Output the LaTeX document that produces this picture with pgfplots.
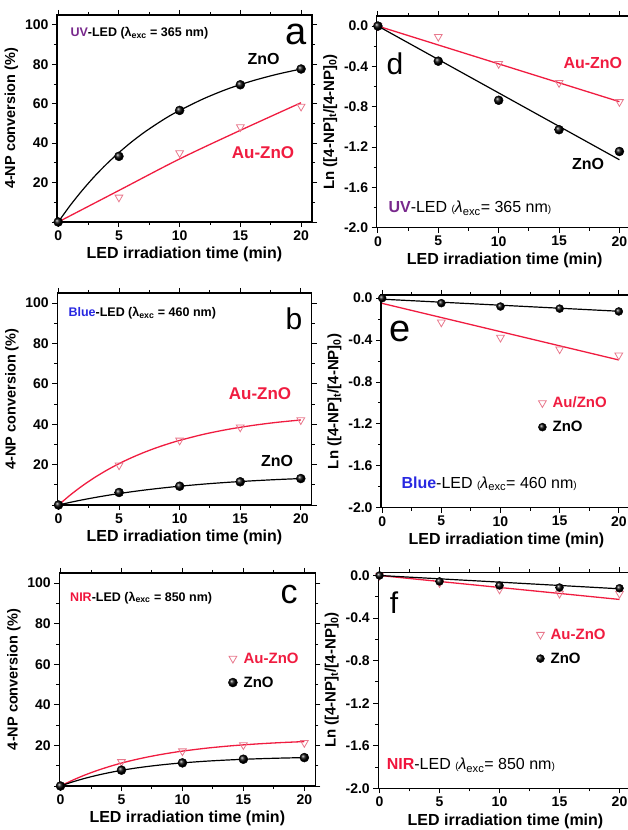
\documentclass[border=0pt]{standalone}
\usepackage{pgfplots}
\pgfplotsset{compat=1.18}
\usepackage{fontspec}
\setmainfont{Liberation Sans}
\definecolor{aured}{RGB}{240,28,64}
\definecolor{aumark}{RGB}{232,120,140}
\definecolor{uvpurple}{RGB}{120,40,140}
\definecolor{blueled}{RGB}{40,40,225}
\definecolor{nirred}{RGB}{240,20,60}
\newcommand{\fs}[1]{\fontsize{#1}{#1}\selectfont}

\pgfplotsset{
 panel/.style={
   scale only axis, anchor=south west,
   axis line style={line width=1.2pt},
   tick align=outside,
   major tick length=5pt, minor tick length=3pt,
   every tick/.style={black, line width=0.9pt},
   xtick={0,5,10,15,20}, xticklabels={0,5,10,15,20},
   minor x tick num=1,
   xmin=-0.1, xmax=20.9,
   tick label style={font=\fs{14}\bfseries},
   xlabel={LED irradiation time (min)},
   xlabel style={font=\fs{16}\bfseries},
   ylabel style={font=\fs{14.5}\bfseries},
   clip=false,
   legend style={draw=none, fill=none, font=\fs{15}\bfseries, row sep=8pt, inner sep=0pt, column sep=4pt},
   legend cell align=left,
   legend image code/.code={\draw[##1] plot coordinates {(0pt,0pt)};},
 },
 leftp/.style={panel, ymin=0, ymax=105, ytick={0,20,40,60,80,100}, yticklabels={,20,40,60,80,100}, minor y tick num=1, ylabel={4-NP conversion (\%)}},
 rightp/.style={panel, ymin=-2, xmax=21.1, ytick={-2,-1.6,-1.2,-0.8,-0.4,0}, yticklabels={-2.0,-1.6,-1.2,-0.8,-0.4,0.0}, minor y tick num=1, ylabel={Ln ([4-NP]\textsubscript{t}/[4-NP]\textsubscript{0})}, ylabel style={font=\fs{15}\bfseries}},
 zno/.style={only marks, mark=ball, mark size=4.5pt, ball color=black, mark options={ball color=black}},
 au/.style={only marks, mark=triangle, mark size=4.5pt, mark options={rotate=180, draw=aumark, fill=white, line width=0.8pt}},
 znoline/.style={black, line width=1.2pt, no marks, smooth},
 auline/.style={aured, line width=1.3pt, no marks, smooth},
}

\begin{document}
\begin{tikzpicture}
% ---------------- panel a
\begin{axis}[leftp, at={(57pt,608pt)}, width=255pt, height=207pt]
\addplot[auline, forget plot] coordinates {(0,0)(5,16)(10,32)(15,46.5)(20,60.5)};
\addplot[znoline, forget plot] coordinates {(0,0)(1,8.5)(2,16.2)(3,23.2)(4,29.5)(5,35.2)(6,40.4)(7,45.1)(8,49.3)(9,53.2)(10,56.6)(12,62.6)(14,67.6)(16,71.6)(18,74.9)(20,77.6)};
\addplot[au] coordinates {(5,12.5)(10,35)(15,48.2)(20,58.6)};
\addplot[zno] coordinates {(0,0)(5,33.3)(10,56.6)(15,69.6)(20,77.6)};
\end{axis}
% ---------------- panel d
\begin{axis}[rightp, at={(376.7pt,602.3pt)}, width=256pt, height=211.7pt, ymax=0.1]
\addplot[auline, forget plot] coordinates {(0,0)(20,-0.75)};
\addplot[znoline, forget plot] coordinates {(0,0)(20,-1.326)};
\addplot[au] coordinates {(0,0)(5,-0.105)(10,-0.374)(15,-0.563)(20,-0.752)};
\addplot[zno] coordinates {(0,0)(5,-0.348)(10,-0.736)(15,-1.028)(20,-1.244)};
\end{axis}
% ---------------- panel b
\begin{axis}[leftp, at={(57.3pt,325pt)}, width=254.4pt, height=212pt]
\addplot[auline, forget plot] coordinates {(0,0)(1,5.09)(2,9.63)(3,13.68)(4,17.28)(5,20.5)(6,23.35)(7,25.9)(8,28.18)(9,30.2)(10,32.0)(12,35.05)(14,37.47)(16,39.39)(18,40.92)(20,42.1)};
\addplot[znoline, forget plot] coordinates {(0,0)(1,1.35)(2,2.58)(3,3.70)(4,4.73)(5,5.67)(6,6.53)(7,7.32)(8,8.04)(9,8.70)(10,9.3)(12,10.36)(14,11.24)(16,11.97)(18,12.59)(20,13.1)};
\addplot[au] coordinates {(5,19.7)(10,32)(15,38.5)(20,42.1)};
\addplot[zno] coordinates {(0,0)(5,6.2)(10,9.3)(15,11.5)(20,13.1)};
\end{axis}
% ---------------- panel e
\begin{axis}[rightp, at={(381pt,322.3pt)}, width=250.8pt, height=212.7pt, ymax=0.03,
  legend style={at={(0.626,0.436)}, anchor=west}]
\addplot[auline, forget plot] coordinates {(0,-0.05)(20,-0.59)};
\addplot[znoline, forget plot] coordinates {(0,-0.01)(20,-0.125)};
\addplot[au] coordinates {(5,-0.23)(10,-0.376)(15,-0.487)(20,-0.545)};
\addlegendentry{\textcolor{aured}{Au/ZnO}}
\addplot[zno, mark size=4pt] coordinates {(0,0)(5,-0.048)(10,-0.08)(15,-0.10)(20,-0.127)};
\addlegendentry{ZnO}
\end{axis}
% ---------------- panel c
\begin{axis}[leftp, at={(59.3pt,44pt)}, width=256pt, height=213pt,
  legend style={at={(0.659,0.542)}, anchor=west}]
\addplot[auline, forget plot] coordinates {(0,0)(1,2.88)(2,5.41)(3,7.63)(4,9.58)(5,11.3)(6,12.80)(7,14.12)(8,15.28)(9,16.30)(10,17.2)(12,18.67)(14,19.81)(16,20.69)(18,21.37)(20,21.9)};
\addplot[znoline, forget plot] coordinates {(0,0)(1,2.03)(2,3.78)(3,5.29)(4,6.59)(5,7.72)(6,8.69)(7,9.52)(8,10.24)(9,10.86)(10,11.4)(12,12.26)(14,12.90)(16,13.38)(18,13.74)(20,14.0)};
\addplot[au] coordinates {(5,11.9)(10,17.2)(15,20.2)(20,21.3)};
\addlegendentry{\textcolor{aured}{Au-ZnO}}
\addplot[zno] coordinates {(0,0)(5,7.8)(10,11.4)(15,13.2)(20,14.0)};
\addlegendentry{ZnO}
\end{axis}
% ---------------- panel f
\begin{axis}[rightp, at={(378.3pt,41.7pt)}, width=254.4pt, height=216pt, ymax=0.03,
  legend style={at={(0.62,0.656)}, anchor=west}]
\addplot[auline, forget plot] coordinates {(0,0)(20,-0.225)};
\addplot[znoline, forget plot] coordinates {(0,0)(20,-0.125)};
\addplot[au] coordinates {(0,0)(5,-0.07)(10,-0.13)(15,-0.17)(20,-0.17)};
\addlegendentry{\textcolor{aured}{Au-ZnO}}
\addplot[zno, mark size=4pt] coordinates {(0,0)(5,-0.056)(10,-0.094)(15,-0.113)(20,-0.12)};
\addlegendentry{ZnO}
\end{axis}
% ---------------- annotations
\node[anchor=west, font=\fs{12.5}\bfseries] at (67pt,797pt) {\textcolor{uvpurple}{UV}-LED (λ\textsubscript{exc} = 365 nm)};
\node[anchor=base, font=\fs{38}] at (296pt,785pt) {a};
\node[anchor=base, font=\fs{16}\bfseries] at (263.5pt,765pt) {ZnO};
\node[anchor=base, font=\fs{17}\bfseries, text=aured] at (263pt,671pt) {Au-ZnO};

\node[anchor=base, font=\fs{30}] at (395pt,755pt) {d};
\node[anchor=base west, font=\fs{16}\bfseries, text=aured] at (560pt,761.7pt) {Au-ZnO};
\node[anchor=base, font=\fs{16}\bfseries] at (588pt,660pt) {ZnO};
\node[anchor=base west, font=\fs{16}] at (385pt,617pt) {\textcolor{uvpurple}{\bfseries UV}-LED {\fs{10}(}\textit{λ}\textsubscript{exc}= 365 nm{\fs{10})}};

\node[anchor=west, font=\fs{12.5}\bfseries] at (65pt,516.7pt) {\textcolor{blueled}{Blue}-LED (λ\textsubscript{exc} = 460 nm)};
\node[anchor=base, font=\fs{30}] at (294pt,500pt) {b};
\node[anchor=base, font=\fs{17}\bfseries, text=aured] at (260pt,430pt) {Au-ZnO};
\node[anchor=base, font=\fs{16}\bfseries] at (277pt,363.3pt) {ZnO};

\node[anchor=base, font=\fs{38}] at (400pt,488.3pt) {e};
\node[anchor=base west, font=\fs{16}] at (398pt,341.7pt) {\textcolor{blueled}{\bfseries Blue}-LED {\fs{10}(}\textit{λ}\textsubscript{exc}= 460 nm{\fs{10})}};

\node[anchor=west, font=\fs{12.5}\bfseries] at (66.7pt,232.3pt) {\textcolor{nirred}{NIR}-LED (λ\textsubscript{exc} = 850 nm)};
\node[anchor=base, font=\fs{34}] at (289pt,226.7pt) {c};

\node[anchor=base, font=\fs{30}] at (394pt,216.7pt) {f};
\node[anchor=base west, font=\fs{16}] at (383.3pt,60pt) {\textcolor{nirred}{\bfseries NIR}-LED {\fs{10}(}\textit{λ}\textsubscript{exc}= 850 nm{\fs{10})}};

\pgfresetboundingbox
\path[use as bounding box] (0pt,0pt) rectangle (627pt,830pt);
\end{tikzpicture}
\end{document}
